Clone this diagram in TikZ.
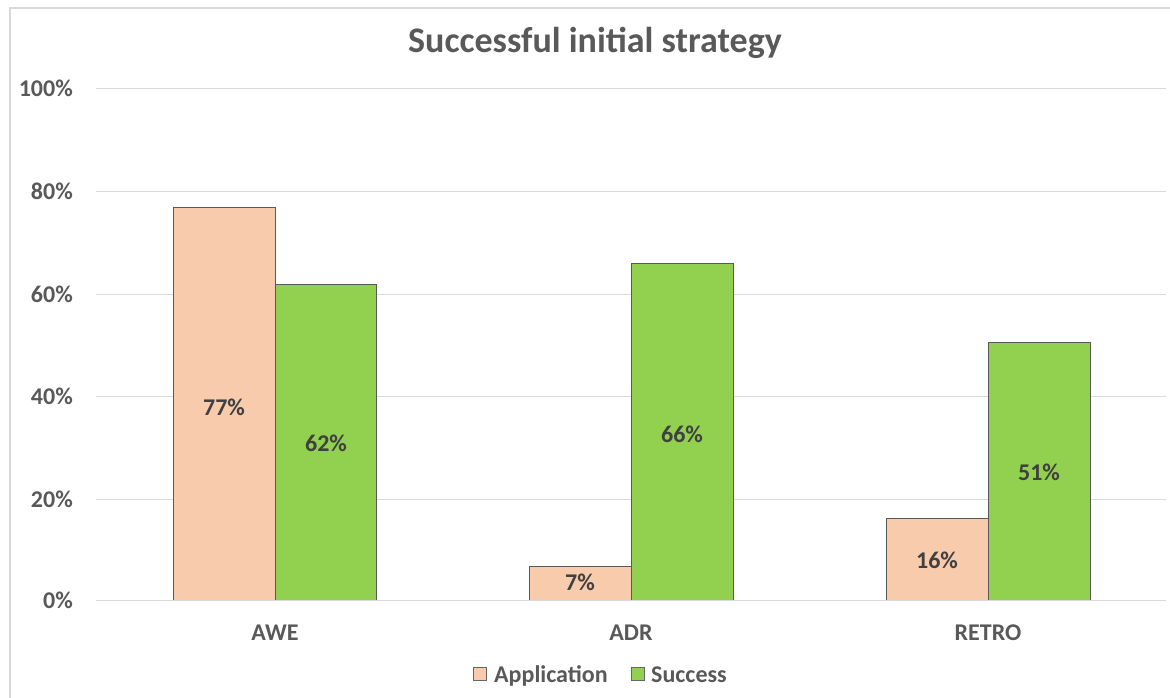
\documentclass[tikz,border=0pt]{standalone}
\usepackage{fontspec}
\setmainfont{Carlito}
\usepackage{tikz}
\usetikzlibrary{positioning}
\definecolor{gridgray}{HTML}{D9D9D9}
\definecolor{labelgray}{HTML}{595959}
\definecolor{valuegray}{HTML}{404040}
\definecolor{appfill}{HTML}{F8CBAD}
\definecolor{succfill}{HTML}{92D050}
\newcommand{\chartfont}{\fontsize{24}{28}\selectfont\bfseries}
\tikzset{gridline/.style = {draw = gridgray, line width = 1}}
\tikzset{bar/.style = {draw = black!65, line width = 1}}
\tikzset{ticklabel/.style = {font = \chartfont, text = labelgray, anchor = base east, inner sep = 0}}
\tikzset{catlabel/.style = {font = \chartfont, text = labelgray, anchor = base, inner sep = 0}}
\tikzset{valuelabel/.style = {font = \chartfont, text = valuegray, anchor = base, inner sep = 0}}
\tikzset{keybox/.style = {draw = black!60, line width = 0.8, minimum size = 13, inner sep = 0}}
\tikzset{keyname/.style = {font = \chartfont, text = labelgray, anchor = base west, inner sep = 0}}

\begin{document}
\begin{tikzpicture}[x = 1pt, y = -1pt]
      \useasboundingbox [fill = white] (0, 0) rectangle (1170, 698);
      \draw [gridgray, line width = 1.5] (10, 712) -- (10, 8) -- (1172, 8);
      \node [font = \fontsize{36}{40}\selectfont\bfseries, text = labelgray, anchor = base] (title) at (595, 53) {Successful initial strategy};
      \draw [gridline] (96, 89) -- (1166, 89);
      \draw [gridline] (96, 191) -- (1166, 191);
      \draw [gridline] (96, 294) -- (1166, 294);
      \draw [gridline] (96, 396) -- (1166, 396);
      \draw [gridline] (96, 499) -- (1166, 499);
      \node [ticklabel] (t100) at (73, 97) {100\%};
      \node [ticklabel] (t80) at (73, 199) {80\%};
      \node [ticklabel] (t60) at (73, 302) {60\%};
      \node [ticklabel] (t40) at (73, 404) {40\%};
      \node [ticklabel] (t20) at (73, 507) {20\%};
      \node [ticklabel] (t0) at (73, 608) {0\%};
      \draw [bar, fill = appfill] (173, 600) rectangle (275, 207);
      \draw [bar, fill = succfill] (275, 600) rectangle (376, 284);
      \draw [bar, fill = appfill] (529, 600) rectangle (631, 566);
      \draw [bar, fill = succfill] (631, 600) rectangle (733, 263);
      \draw [bar, fill = appfill] (886, 600) rectangle (988, 518);
      \draw [bar, fill = succfill] (988, 600) rectangle (1090, 342);
      \draw [gridline] (96, 600) -- (1166, 600);
      \node [valuelabel] (aweapp) at (224, 415) {77\%};
      \node [valuelabel] (awesucc) at (326, 451) {62\%};
      \node [valuelabel] (adrapp) at (580, 590) {7\%};
      \node [valuelabel] (adrsucc) at (682, 442) {66\%};
      \node [valuelabel] (retroapp) at (937, 568) {16\%};
      \node [valuelabel] (retrosucc) at (1039, 480) {51\%};
      \node [catlabel] (awe) at (275, 640) {AWE};
      \node [catlabel] (adr) at (631, 640) {ADR};
      \node [catlabel] (retro) at (988, 640) {RETRO};
      \node [keybox, fill = appfill] (appkey) at (480, 674) {};
      \node [keyname] (appname) at (494, 682) {Application};
      \node [keybox, fill = succfill] (succkey) at (638, 674) {};
      \node [keyname] (succname) at (651, 682) {Success};
    \end{tikzpicture}
\end{document}
